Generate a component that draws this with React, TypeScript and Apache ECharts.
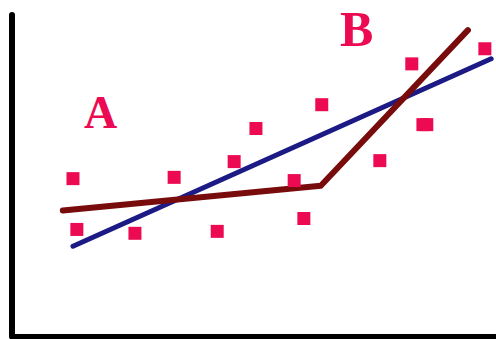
import React, { useEffect, useRef } from "react";
import * as echarts from "echarts";

const pointX = [1.26, 1.34, 2.54, 3.35, 4.24, 4.59, 5.04, 5.83, 6.03, 6.4, 7.6, 8.26, 8.49, 8.57, 9.77];
const pointY = [4.91, 3.33, 3.21, 4.95, 3.27, 5.44, 6.47, 4.85, 3.67, 7.21, 5.47, 8.48, 6.59, 6.59, 8.95];

const blueX = [1.26, 9.9];
const blueY = [2.81, 8.64];

const redX = [1.05, 6.38, 9.42];
const redY = [3.92, 4.69, 9.53];

const labels = ["A", "B"];

export default function App() {
  const ref = useRef<HTMLDivElement>(null);
  useEffect(() => {
    if (!ref.current) return;
    const chart = echarts.init(ref.current, null, { renderer: "svg" });
    const pink = "#ec0a52";
    chart.setOption({
      animation: false,
      backgroundColor: "#ffffff",
      grid: { left: 12, right: 0, top: 15, bottom: 2.5 },
      xAxis: {
        type: "value",
        min: 0,
        max: 10,
        axisLine: { show: true, onZero: false, lineStyle: { color: "#000", width: 5 } },
        axisTick: { show: false },
        axisLabel: { show: false },
        splitLine: { show: false },
      },
      yAxis: {
        type: "value",
        min: 0,
        max: 10,
        axisLine: { show: true, onZero: false, lineStyle: { color: "#000", width: 6 } },
        axisTick: { show: false },
        axisLabel: { show: false },
        splitLine: { show: false },
      },
      graphic: [
        {
          type: "text",
          left: 84,
          top: 89,
          style: {
            text: labels[0],
            fill: pink,
            font: "bold 46px 'Liberation Serif'",
          },
        },
        {
          type: "text",
          left: 340,
          top: 4,
          style: {
            text: labels[1],
            fill: pink,
            font: "bold 50px 'Liberation Serif'",
          },
        },
      ],
      series: [
        {
          type: "line",
          data: blueX.map((x, i) => [x, blueY[i]]),
          showSymbol: false,
          symbol: "none",
          lineStyle: { color: "#1c1a85", width: 5, cap: "round" },
          z: 2,
        },
        {
          type: "line",
          data: redX.map((x, i) => [x, redY[i]]),
          showSymbol: false,
          symbol: "none",
          lineStyle: { color: "#780c0c", width: 6, cap: "round", join: "round" },
          z: 3,
        },
        {
          type: "scatter",
          data: pointX.map((x, i) => [x, pointY[i]]),
          symbol: "rect",
          symbolSize: 13,
          itemStyle: { color: pink, opacity: 1 },
          z: 4,
        },
      ],
    });
    return () => chart.dispose();
  }, []);
  return (
    <div
      ref={ref}
      style={{ position: "fixed", left: 0, top: 0, width: 496, height: 339 }}
    />
  );
}
